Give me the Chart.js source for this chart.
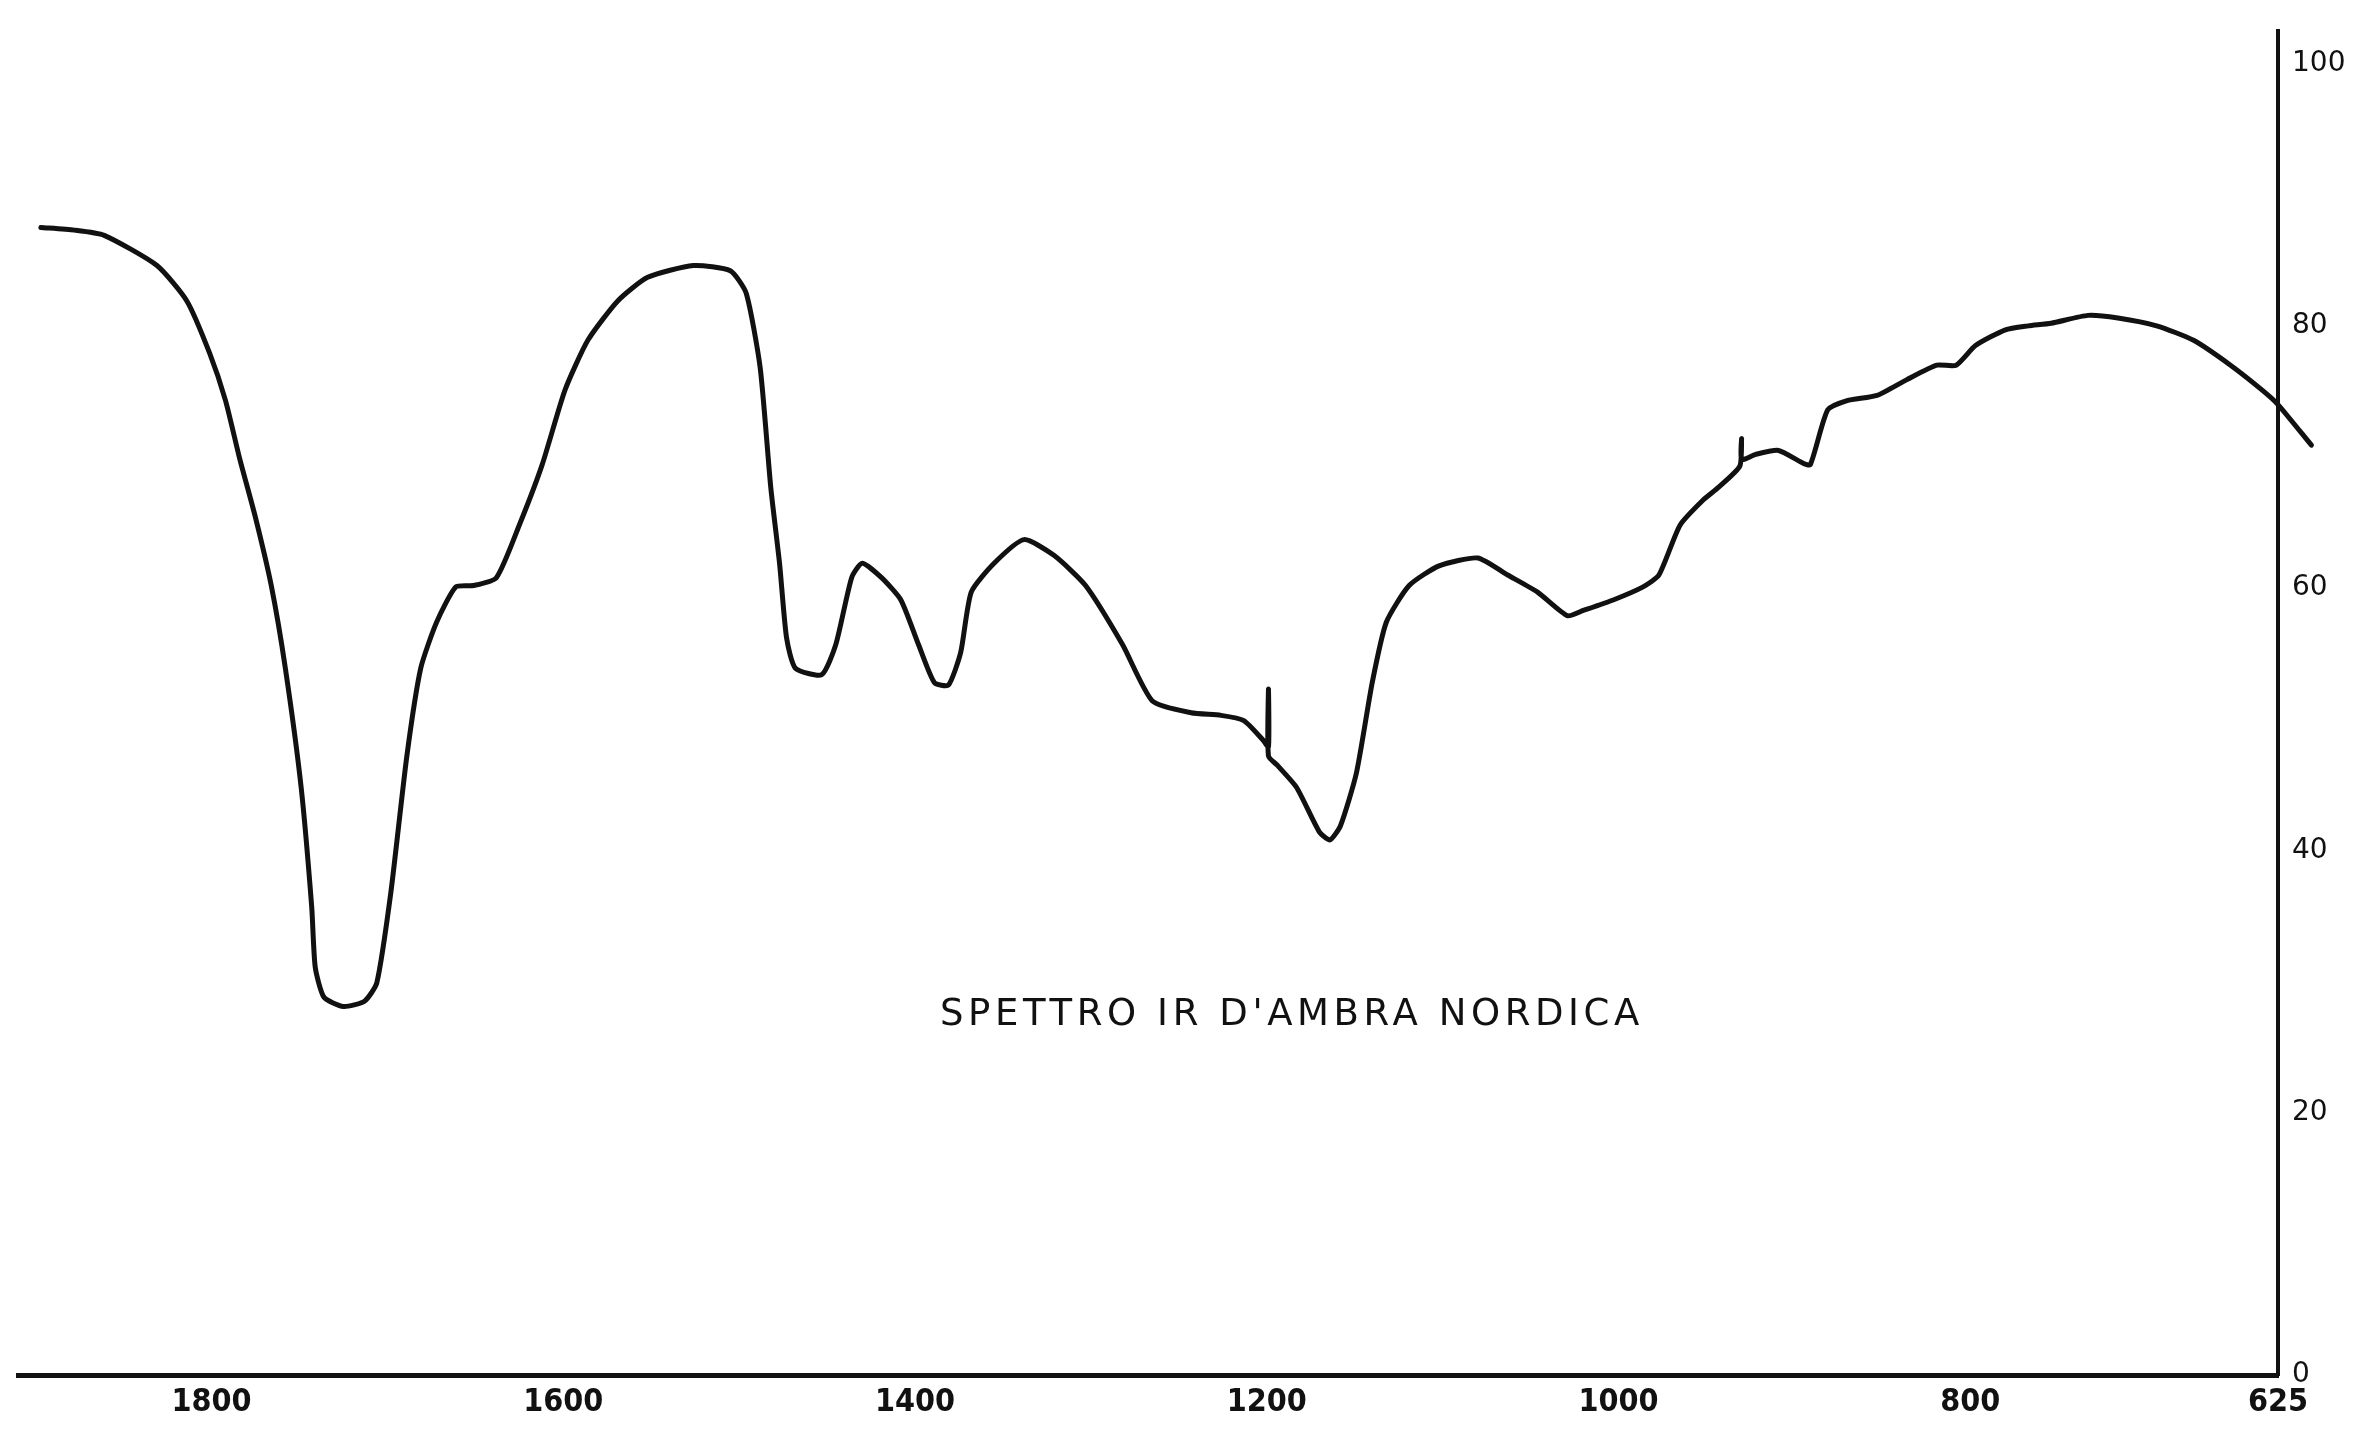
<!DOCTYPE html>
<html>
<head>
<meta charset="utf-8">
<title>Spettro IR d'ambra nordica</title>
<script src="https://cdn.jsdelivr.net/npm/chart.js@4.4.1/dist/chart.umd.min.js"></script>
<style>
  html, body { margin: 0; padding: 0; background: #fff; }
  #wrap { position: relative; width: 2364px; height: 1432px; }
  #didascalia {
    position: absolute; left: 940px; top: 994px;
    font: 37px "DejaVu Sans", sans-serif; line-height: 1;
    letter-spacing: 4.6px; color: #111; white-space: nowrap;
  }
</style>
</head>
<body>
<div id="wrap">
  <canvas id="spettro" width="2364" height="1432"></canvas>
  <div id="didascalia">SPETTRO IR D'AMBRA NORDICA</div>
</div>
<script>
// numeri d'onda (cm-1) e trasmittanza (%) letti lungo la traccia
const numeriOnda = [
  1897, 1878, 1861, 1831, 1814, 1801, 1792, 1784, 1775, 1766,
  1758, 1749, 1743, 1741, 1736, 1725, 1713, 1706, 1698, 1689,
  1681, 1672, 1661, 1651, 1638, 1625, 1612, 1599, 1586, 1569,
  1552, 1526, 1505, 1496, 1488, 1482, 1477, 1473, 1468, 1453,
  1445, 1436, 1430, 1419, 1408, 1398, 1389, 1381, 1374, 1368,
  1355, 1338, 1321, 1303, 1282, 1265, 1243, 1226, 1213, 1202,
  1199, 1199, 1199, 1194, 1183, 1170, 1164, 1158, 1149, 1140,
  1132, 1119, 1102, 1080, 1063, 1046, 1029, 1020, 1003, 986,
  977, 965, 952, 943, 931, 930, 930, 922, 909, 896,
  891, 881, 870, 853, 836, 819, 808, 797, 780, 767,
  754, 733, 716, 694, 673, 652, 634, 625, 606
];
const trasmittanza = [
  87.5, 87.3, 86.9, 84.6, 81.9, 77.9, 74.3, 69.9, 65.4, 60.2,
  53.9, 44.8, 35.7, 31.1, 28.8, 28.1, 28.5, 29.9, 36.8, 47.1,
  53.9, 57.4, 60.1, 60.2, 60.8, 64.8, 69.4, 75.1, 78.9, 81.9,
  83.7, 84.6, 84.2, 82.5, 76.8, 67.7, 61.9, 56.2, 53.9, 53.4,
  55.7, 60.8, 61.9, 60.8, 59.1, 55.7, 52.8, 52.6, 55.1, 59.7,
  61.9, 63.7, 62.5, 60.2, 55.7, 51.4, 50.5, 50.3, 49.9, 48.4,
  47.9, 52.3, 47.2, 46.5, 44.8, 41.4, 40.8, 41.9, 45.9, 52.8,
  57.4, 60.2, 61.7, 62.3, 61.0, 59.7, 57.9, 58.3, 59.1, 60.1,
  61.0, 64.8, 66.7, 67.7, 69.3, 71.4, 69.8, 70.2, 70.5, 69.6,
  69.4, 73.6, 74.3, 74.7, 75.9, 77.0, 77.0, 78.5, 79.7, 80.0,
  80.2, 80.8, 80.6, 80.0, 78.9, 77.0, 75.1, 74.0, 70.9
];

const tickOnda = [1800, 1600, 1400, 1200, 1000, 800, 625];
const tickTrasm = [0, 20, 40, 60, 80, 100];

const punti = numeriOnda.map((x, i) => ({ x, y: trasmittanza[i] }));
const nero = "#111";

new Chart(document.getElementById("spettro"), {
  type: "line",
  data: {
    datasets: [{
      data: punti,
      borderColor: nero,
      borderWidth: 5,
      borderJoinStyle: "round",
      borderCapStyle: "round",
      pointRadius: 0,
      tension: 0.2,
      clip: false
    }]
  },
  options: {
    responsive: false,
    animation: false,
    layout: { padding: { left: 18, top: 22, right: 0, bottom: 0 } },
    plugins: { legend: { display: false }, tooltip: { enabled: false } },
    scales: {
      x: {
        type: "linear",
        reverse: true,
        min: 625,
        max: 1910,
        afterBuildTicks: s => { s.ticks = tickOnda.map(v => ({ value: v })); },
        afterFit: s => { s.height = 57; },
        grid: { display: false, drawTicks: false },
        border: { display: true, color: nero, width: 5 },
        ticks: {
          color: nero,
          padding: 8,
          maxRotation: 0,
          autoSkip: false,
          callback: v => String(v),
          font: { family: "'Liberation Sans Narrow', 'DejaVu Sans Condensed', sans-serif", size: 32, weight: "bold" }
        }
      },
      y: {
        position: "right",
        min: 0,
        max: 102.5,
        afterBuildTicks: s => { s.ticks = tickTrasm.map(v => ({ value: v })); },
        afterFit: s => { s.width = 86; },
        grid: { display: false, drawTicks: false },
        border: { display: true, color: nero, width: 4 },
        ticks: {
          color: nero,
          padding: 14,
          callback: v => String(v),
          font: { family: "'DejaVu Sans', sans-serif", size: 28 }
        }
      }
    }
  }
});
</script>
</body>
</html>
